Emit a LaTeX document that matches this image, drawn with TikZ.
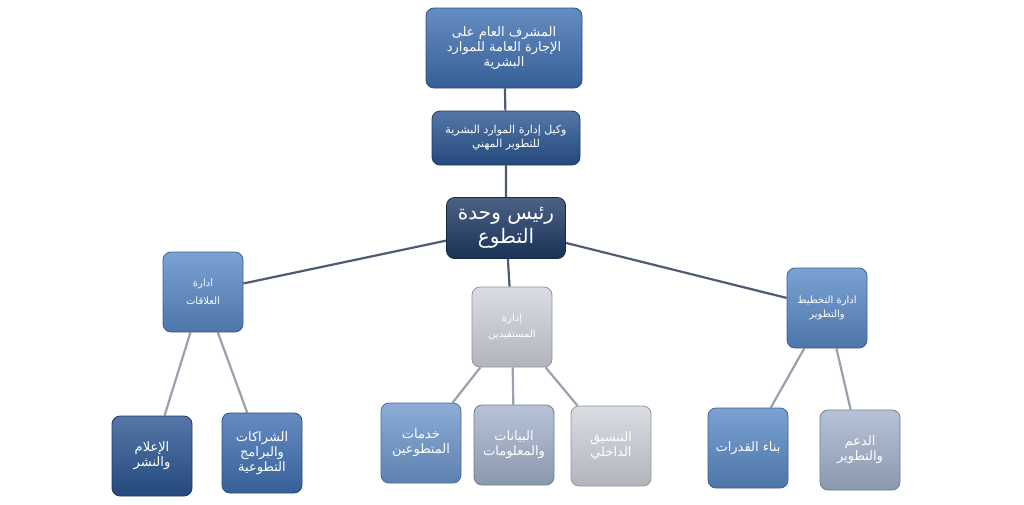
\documentclass[tikz,border=0pt]{standalone}
\usepackage{fontspec}
\newfontfamily\arabicfont[Script=Arabic]{DejaVu Sans}
\TeXXeTstate=1
\usetikzlibrary{backgrounds}
\newcommand{\ar}[1]{\beginR #1\endR}
\definecolor{midblue}{HTML}{3F70B2}
\definecolor{darkblue}{HTML}{2A5592}
\definecolor{navy}{HTML}{1F3A66}
\definecolor{lightblue}{HTML}{5A8AC8}
\definecolor{paleblue}{HTML}{6E98CE}
\definecolor{greyblue}{HTML}{A3B3CD}
\definecolor{palegrey}{HTML}{D0D4DB}
\definecolor{upline}{HTML}{4F5A75}
\definecolor{lowline}{HTML}{9AA0AE}
\begin{document}
\begin{tikzpicture}[x=1pt,y=-1pt,
  box/.style={rounded corners=8pt,draw=#1!70!black,line width=0.8pt,
    top color=#1!80!white,bottom color=#1!85!black,text=white,
    align=center,font=\arabicfont\fontsize{11}{14}\selectfont,inner sep=2pt},
  leaf/.style={box=#1,minimum width=80pt,minimum height=80pt,
    font=\arabicfont\fontsize{13}{15}\selectfont},
  upper/.style={draw=upline,line width=2.2pt},
  lower/.style={draw=lowline,line width=2.2pt}]
  \useasboundingbox (0,0) rectangle (1024,504);
  \node[box=midblue,minimum width=156pt,minimum height=80pt,
    font=\arabicfont\fontsize{13}{15}\selectfont] (chief) at (504,48)
    {\ar{المشرف العام على}\\\ar{الإجارة العامة للموارد}\\\ar{البشرية}};
  \node[box=darkblue,minimum width=148pt,minimum height=54pt] (deputy) at (506,138)
    {\ar{وكيل إدارة الموارد البشرية}\\\ar{للتطوير المهني}};
  \node[box=navy,minimum width=119pt,minimum height=61pt,
    font=\arabicfont\fontsize{20}{24}\selectfont] (head) at (506,228)
    {\ar{رئيس وحدة}\\\ar{التطوع}};
  \node[leaf=lightblue,font=\arabicfont\fontsize{10}{18}\selectfont] (rel) at (203,292)
    {\ar{ادارة}\\\ar{العلاقات}};
  \node[leaf=palegrey,font=\arabicfont\fontsize{10}{16}\selectfont] (benef) at (512,327)
    {\ar{إدارة}\\\ar{المستفيدين}};
  \node[leaf=lightblue,font=\arabicfont\fontsize{10}{14}\selectfont] (plan) at (827,308)
    {\ar{ادارة التخطيط}\\\ar{والتطوير}};
  \node[leaf=darkblue] (media) at (152,456) {\ar{الإعلام}\\\ar{والنشر}};
  \node[leaf=midblue] (partner) at (262,453)
    {\ar{الشراكات}\\\ar{والبرامج}\\\ar{التطوعية}};
  \node[leaf=paleblue] (services) at (421,443) {\ar{خدمات}\\\ar{المتطوعين}};
  \node[leaf=greyblue] (data) at (514,445) {\ar{البيانات}\\\ar{والمعلومات}};
  \node[leaf=palegrey] (coord) at (611,446) {\ar{التنسيق}\\\ar{الداخلي}};
  \node[leaf=lightblue] (build) at (748,448) {\ar{بناء القدرات}};
  \node[leaf=greyblue] (support) at (860,450) {\ar{الدعم}\\\ar{والتطوير}};

  \begin{pgfonlayer}{background}
    \path[upper] (chief) -- (deputy) (deputy) -- (head)
      (head) -- (rel) (head) -- (benef) (head) -- (plan);
    \path[lower] (rel) -- (media) (rel) -- (partner)
      (benef) -- (services) (benef) -- (data) (benef) -- (coord)
      (plan) -- (build) (plan) -- (support);
  \end{pgfonlayer}
\end{tikzpicture}
\end{document}
